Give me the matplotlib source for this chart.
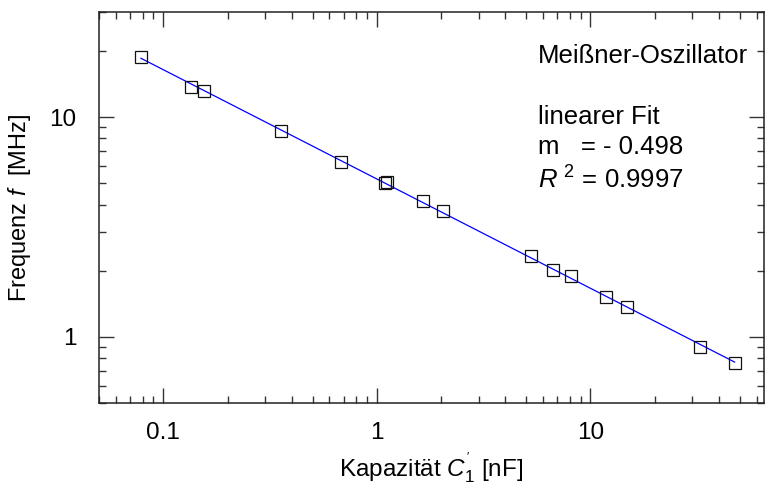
import numpy as np
import matplotlib
matplotlib.use('Agg')
import matplotlib.pyplot as plt
from matplotlib.ticker import LogLocator, FixedLocator, FixedFormatter, NullFormatter

plt.rcParams['font.family'] = ['Liberation Sans', 'DejaVu Sans']
plt.rcParams['mathtext.fontset'] = 'custom'
plt.rcParams['mathtext.rm'] = 'Liberation Sans'
plt.rcParams['mathtext.it'] = 'Liberation Sans:italic'

# measured values: capacity C1' [nF] and frequency f [MHz]
capacity = [0.0786, 0.1344, 0.1557, 0.3554, 0.6794, 1.096, 1.116, 1.640,
            2.035, 5.248, 6.656, 8.08, 11.89, 14.85, 32.56, 47.35]
frequency = [18.78, 13.76, 13.19, 8.67, 6.22, 5.00, 5.05, 4.16,
             3.73, 2.333, 2.015, 1.891, 1.522, 1.374, 0.903, 0.759]

x_ticks = [0.1, 1, 10]
x_ticklabels = ['0.1', '1', '10']
y_ticks = [1, 10]
y_ticklabels = ['1', '10']

# linear fit in log-log space
slope, icpt = np.polyfit(np.log10(capacity), np.log10(frequency), 1)
x_fit = np.array([min(capacity), max(capacity)])
y_fit = 10 ** (icpt + slope * np.log10(x_fit))

fig = plt.figure(figsize=(7.66, 4.93), dpi=100)
ax = fig.add_axes([0.1292, 0.1826, 0.8682, 0.7924])

ax.plot(x_fit, y_fit, color='blue', lw=0.9, zorder=2)
ax.plot(capacity, frequency, ls='none', marker='s', ms=8, mfc='none',
        mec='#111111', mew=0.9, zorder=3)

ax.set_xscale('log')
ax.set_yscale('log')
ax.set_xlim(0.05, 65)
ax.set_ylim(0.5, 30)

ax.xaxis.set_major_locator(FixedLocator(x_ticks))
ax.xaxis.set_major_formatter(FixedFormatter(x_ticklabels))
ax.yaxis.set_major_locator(FixedLocator(y_ticks))
ax.yaxis.set_major_formatter(FixedFormatter(y_ticklabels))
ax.xaxis.set_minor_locator(LogLocator(base=10, subs=np.arange(2, 10), numticks=20))
ax.yaxis.set_minor_locator(LogLocator(base=10, subs=np.arange(2, 10), numticks=20))
ax.xaxis.set_minor_formatter(NullFormatter())
ax.yaxis.set_minor_formatter(NullFormatter())

ax.tick_params(which='both', direction='in', top=True, right=True, width=1.0,
               color='#333333', labelsize=17.5)
ax.tick_params(which='major', length=11)
ax.tick_params(which='minor', length=5)
ax.tick_params(axis='x', which='major', pad=14)
ax.tick_params(axis='y', which='major', pad=16)
for s in ax.spines.values():
    s.set_linewidth(1.1)
    s.set_color('#222222')

ax.set_xlabel(r"Kapazität $C_1^{'}$ [nF]", fontsize=17.5, labelpad=4)
ax.set_ylabel(r"Frequenz $f$  [MHz]", fontsize=17, labelpad=12)

tx = 0.66
ax.text(tx, 0.888, 'Meißner-Oszillator', transform=ax.transAxes, fontsize=18.5, va='center')
ax.text(tx, 0.732, 'linearer Fit', transform=ax.transAxes, fontsize=18.5, va='center')
ax.text(tx, 0.655, 'm   = - 0.498', transform=ax.transAxes, fontsize=18.5, va='center')
ax.text(tx, 0.571, r'$R$ $^2$ = 0.9997', transform=ax.transAxes, fontsize=18.5, va='center')

fig.savefig('out.png', dpi=100)
